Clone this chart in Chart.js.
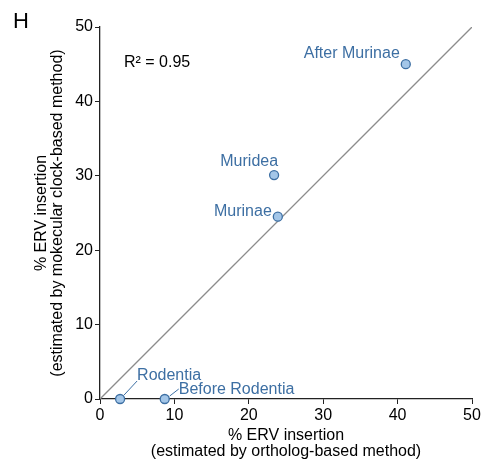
<!DOCTYPE html>
<html>
<head>
<meta charset="utf-8">
<script src="https://cdn.jsdelivr.net/npm/chart.js@4"></script>
<style>
    html, body { margin: 0; padding: 0; background: #fff; }
    #wrap { width: 485px; height: 461px; position: relative; }
</style>
</head>
<body>
<div id="wrap"><canvas id="erv"></canvas></div>
<script>
// ==================== DATA ====================
const groups = ['After Murinae', 'Muridea', 'Murinae', 'Rodentia', 'Before Rodentia'];
const orthologPct = [41.1, 23.4, 23.9, 2.7, 8.7];   // x: ortholog-based method
const clockPct = [45.0, 30.1, 24.5, 0, 0];           // y: molecular clock method
const identityLine = [0, 50];
const axisTicks = [0, 10, 20, 30, 40, 50];
const rSquared = '0.95';
const panelLetter = 'H';

// label placement (pixels relative to point), not data
const labelStyle = {
    'After Murinae':   { dx: -6, dy: -11, align: 'right' },
    'Muridea':         { dx: 4, dy: -13, align: 'right' },
    'Murinae':         { dx: -6, dy: -5, align: 'right' },
    'Rodentia':        { dx: 17, dy: -23, align: 'left', leader: [[4, -4], [17, -18]] },
    'Before Rodentia': { dx: 14, dy: -9, align: 'left', leader: [[5, -3], [14, -10]] }
};

const FONT = "'Liberation Sans', Arial, sans-serif";
const BLUE = '#3d6fa3';

const annotations = {
    id: 'annotations',
    afterDatasetsDraw(chart) {
        const ctx = chart.ctx;
        const meta = chart.getDatasetMeta(1);
        ctx.save();
        ctx.font = '16px ' + FONT;
        ctx.textBaseline = 'middle';
        groups.forEach((name, i) => {
            const pt = meta.data[i];
            const s = labelStyle[name];
            if (s.leader) {
                ctx.strokeStyle = BLUE;
                ctx.lineWidth = 1;
                ctx.beginPath();
                ctx.moveTo(pt.x + s.leader[0][0], pt.y + s.leader[0][1]);
                ctx.lineTo(pt.x + s.leader[1][0], pt.y + s.leader[1][1]);
                ctx.stroke();
            }
            ctx.fillStyle = BLUE;
            ctx.textAlign = s.align;
            ctx.fillText(name, pt.x + s.dx, pt.y + s.dy);
        });

        ctx.fillStyle = '#000';
        ctx.textAlign = 'left';
        ctx.font = '16px ' + FONT;
        ctx.fillText('R\u00b2 = ' + rSquared, 124, 63);
        ctx.font = '22px ' + FONT;
        ctx.textBaseline = 'alphabetic';
        ctx.fillText(panelLetter, 13, 28);
        ctx.restore();
    }
};

const axisCommon = {
    type: 'linear',
    min: 0,
    max: 50,
    afterBuildTicks: scale => { scale.ticks = axisTicks.map(v => ({ value: v })); },
    grid: { drawOnChartArea: false, drawTicks: true, tickLength: 5, color: '#222', tickWidth: 1 },
    border: { display: true, color: '#222', width: 1.3 },
};

new Chart(document.getElementById('erv').getContext('2d'), {
    type: 'scatter',
    data: {
        datasets: [
            {
                type: 'line',
                data: identityLine.map(v => ({ x: v, y: v })),
                borderColor: '#8c8c8c',
                borderWidth: 1.3,
                pointRadius: 0,
                order: 2
            },
            {
                data: orthologPct.map((x, i) => ({ x: x, y: clockPct[i] })),
                backgroundColor: '#a3c6e8',
                borderColor: BLUE,
                borderWidth: 1.3,
                pointRadius: 4.5,
                clip: false,
                order: 1
            }
        ]
    },
    plugins: [annotations],
    options: {
        responsive: true,
        maintainAspectRatio: false,
        animation: false,
        layout: { padding: { left: 0, right: 13, top: 27, bottom: 0 } },
        plugins: { legend: { display: false }, tooltip: { enabled: false } },
        scales: {
            x: {
                ...axisCommon,
                afterFit: scale => { scale.height = 62; },
                ticks: { color: '#000', font: { size: 16, family: FONT }, padding: 2, maxRotation: 0 },
                title: {
                    display: true,
                    text: ['% ERV insertion', '(estimated by ortholog-based method)'],
                    color: '#000',
                    font: { size: 16, family: FONT, lineHeight: 1.0 },
                    padding: { top: 0, bottom: 1 }
                }
            },
            y: {
                ...axisCommon,
                afterFit: scale => { scale.width = 100; },
                ticks: { color: '#000', font: { size: 16, family: FONT }, padding: 2 },
                title: {
                    display: true,
                    text: ['% ERV insertion', '(estimated by mokecular clock-based method)'],
                    color: '#000',
                    font: { size: 16, family: FONT, lineHeight: 1.0 },
                    padding: { top: 34, bottom: 0 }
                }
            }
        }
    }
});
</script>
</body>
</html>
